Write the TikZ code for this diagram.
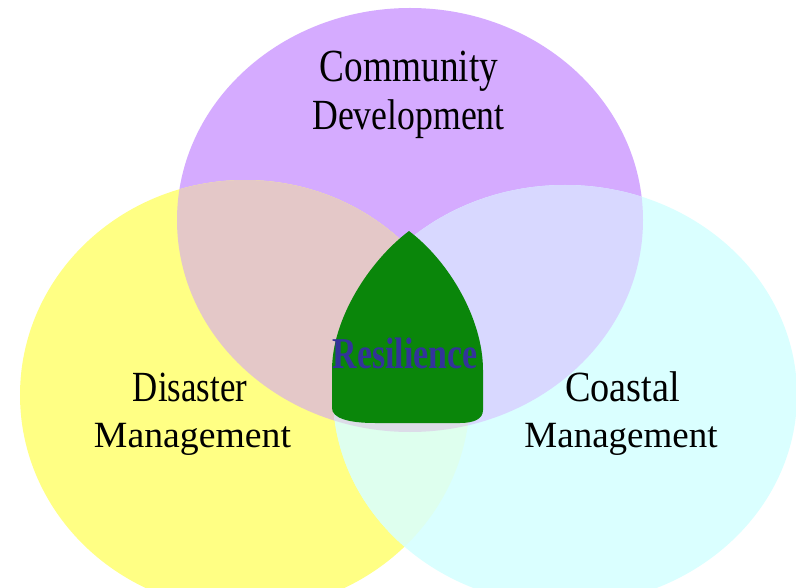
\documentclass[tikz,border=0pt]{standalone}
\usepackage{fontspec}
\setmainfont{Liberation Serif}
\usepackage{graphicx}
\definecolor{purp}{HTML}{D5ABFF}
\definecolor{yell}{HTML}{FFFF84}
\definecolor{cyanc}{HTML}{DAFFFF}
\definecolor{py}{HTML}{E4C8C8}
\definecolor{pc}{HTML}{D8D8FF}
\definecolor{yc}{HTML}{DEFFEE}
\definecolor{pyc}{HTML}{DCDCE8}
\definecolor{leaf}{HTML}{0A860A}
\definecolor{restext}{HTML}{33339A}
\begin{document}
\begin{tikzpicture}[x=1pt,y=-1pt,
  lbl/.style={inner sep=0pt, anchor=base, text=black},
  big/.style={font=\fontsize{43}{43}\selectfont},
  small/.style={font=\fontsize{37}{37}\selectfont}]
\useasboundingbox (0,0) rectangle (796,588);
\clip (0,0) rectangle (796,588);
\fill[white] (0,0) rectangle (796,588);
\def\Pell{(410,220) ellipse [x radius=233pt, y radius=212pt]}
\def\Yell{(245,395) ellipse [x radius=225pt, y radius=215pt]}
\def\Cell{(565,395) ellipse [x radius=232pt, y radius=210pt]}
% single regions
\fill[purp] \Pell;
\fill[yell] \Yell;
\fill[cyanc] \Cell;
% overlaps
\begin{scope}
  \clip \Pell;
  \fill[py] \Yell;
\end{scope}
\begin{scope}
  \clip \Pell;
  \fill[pc] \Cell;
\end{scope}
\begin{scope}
  \clip \Yell;
  \fill[yc] \Cell;
\end{scope}
\begin{scope}
  \clip \Pell;
  \clip \Yell;
  \fill[pyc] \Cell;
\end{scope}
% centre shape
\fill[leaf] (409,231) .. controls (450,262) and (483,320) .. (483,370)
  -- (483,410) .. controls (483,419) and (474,423) .. (460,423)
  -- (375,423) .. controls (348,423) and (332,418) .. (332,408)
  -- (332,370) .. controls (332,320) and (368,262) .. (409,231) -- cycle;
% labels
\node[lbl, font=\fontsize{46}{46}\selectfont] (comm) at (409,82) {\scalebox{0.81}[1]{Community}};
\node[lbl, big] (dev) at (408.5,130) {\scalebox{0.83}[1]{Development}};
\node[lbl, big] (dis) at (190,402) {\scalebox{0.81}[1]{Disaster}};
\node[lbl, small] (dman) at (192.5,447) {\scalebox{1.02}[1]{Management}};
\node[lbl, big] (coa) at (622.5,402) {\scalebox{0.89}[1]{Coastal}};
\node[lbl, small] (cman) at (621,447) {\scalebox{1.0}[1]{Management}};
\node[lbl, text=restext, font=\fontsize{44}{44}\selectfont\bfseries] (res) at (405,368) {\scalebox{0.77}[1]{Resilience}};
\end{tikzpicture}
\end{document}
